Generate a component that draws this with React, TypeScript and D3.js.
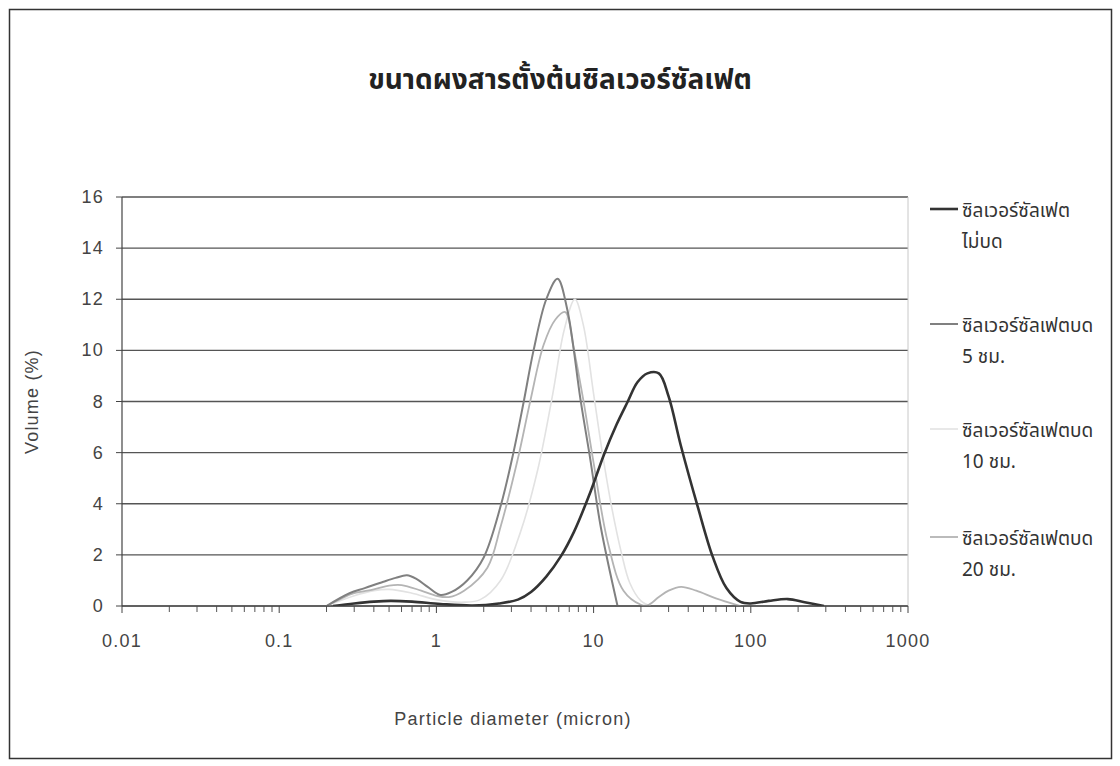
import React from "react"
import * as d3 from "d3"

// particle diameter (micron) / volume (%)
const unground = [
    [0.22, 0], [0.3, 0.1], [0.4, 0.17], [0.51, 0.2], [0.7, 0.17], [1.06, 0.08],
    [1.7, 0.02], [2.5, 0.1], [3.3, 0.25], [4, 0.55], [5, 1.15], [6.2, 1.95],
    [7.5, 2.9], [9.6, 4.5], [11.6, 5.9], [14, 7.1], [16.5, 8.0], [19, 8.75],
    [22, 9.1], [26, 9.1], [30, 8.2], [35.8, 6.3],
    [45.9, 3.9], [57.3, 1.92], [70, 0.7], [86, 0.16], [100, 0.1],
    [130, 0.2], [172, 0.27], [220, 0.15], [292, 0],
]
const milled5 = [
    [0.2, 0], [0.28, 0.5], [0.35, 0.7], [0.46, 0.95], [0.55, 1.1], [0.65, 1.2],
    [0.75, 1.05], [0.88, 0.75], [1.06, 0.43], [1.25, 0.55], [1.57, 1.0],
    [2.0, 1.9], [2.56, 3.9], [3.09, 6.0], [3.58, 7.94], [4.15, 10.0],
    [5.0, 12.0], [5.9, 12.8], [6.8, 11.6], [8.26, 8.06], [9.55, 5.7],
    [11.1, 3.1], [14.2, 0],
]
const milled10 = [
    [0.2, 0], [0.3, 0.4], [0.4, 0.6], [0.5, 0.65], [0.7, 0.5], [1, 0.25],
    [1.5, 0.15], [1.9, 0.25], [2.56, 1.0], [3.43, 2.9], [4.4, 5.3], [5.5, 8.3],
    [6.5, 10.8], [7.6, 12], [8.6, 11], [10, 8.3], [11.5, 5.8], [13, 3.9],
    [15, 2.1], [17, 0.9], [20, 0.2], [23, 0],
]
const milled20 = [
    [0.2, 0], [0.25, 0.3], [0.3, 0.5], [0.4, 0.65], [0.5, 0.8], [0.6, 0.82],
    [0.8, 0.6], [1.0, 0.4], [1.2, 0.35], [1.5, 0.6], [2.11, 1.5], [2.56, 3.1],
    [3.28, 5.7], [3.97, 8.06], [4.8, 10.2], [5.7, 11.2], [6.6, 11.5], [7.46, 10.1],
    [8.6, 8.06], [10, 5.6], [12.3, 2.5], [15.5, 0.6], [20, 0.05], [22, 0.02],
    [26, 0.35], [30, 0.6], [36, 0.75], [45, 0.6], [60, 0.3], [86, 0],
]

const seriesNames = [
    ["ซิลเวอร์ซัลเฟต", "ไม่บด"],
    ["ซิลเวอร์ซัลเฟตบด", "5 ชม."],
    ["ซิลเวอร์ซัลเฟตบด", "10 ชม."],
    ["ซิลเวอร์ซัลเฟตบด", "20 ชม."],
]
const seriesData = [unground, milled5, milled10, milled20]
const seriesColors = ["#333333", "#808080", "#e2e2e2", "#b4b4b4"]
const seriesWidths = [2.6, 2, 1.6, 1.8]

const yTicks = [0, 2, 4, 6, 8, 10, 12, 14, 16]
const xMajor = [0.01, 0.1, 1, 10, 100, 1000]

const W = 1120
const H = 766
const left = 122
const right = 908
const top = 197
const bottom = 606

const thai = "Tahoma, 'Noto Sans Thai', Loma, Garuda, 'DejaVu Sans', sans-serif"
const latin = "Arial, 'Liberation Sans', sans-serif"

export default function App() {
    const x = d3.scaleLog().domain([0.01, 1000]).range([left, right])
    const y = d3.scaleLinear().domain([0, 16]).range([bottom, top])

    const line = d3
        .line<number[]>()
        .x((d) => x(d[0]))
        .y((d) => y(d[1]))
        .curve(d3.curveCatmullRom.alpha(0.5))

    // minor ticks 2..9 in every decade
    const xMinor: number[] = []
    for (let e = -2; e < 3; e++) {
        for (let m = 2; m < 10; m++) xMinor.push(m * Math.pow(10, e))
    }

    const legendY = [212, 327, 432, 540]

    return (
        <div style={{ position: "absolute", left: 0, top: 0 }}>
            <svg width={W} height={H} style={{ display: "block", background: "#fff" }}>
                <defs>
                    <clipPath id="plot">
                        <rect x={left} y={top - 20} width={right - left} height={bottom - top + 20} />
                    </clipPath>
                </defs>
                <rect x={9.5} y={9.5} width={1102} height={749} fill="none" stroke="#333" strokeWidth={1.5} />

                <text x={560} y={89} textAnchor="middle" fontFamily={thai} fontWeight="bold" fontSize={28} fill="#222">
                    ขนาดผงสารตั้งต้นซิลเวอร์ซัลเฟต
                </text>

                {/* gridlines */}
                {yTicks.map((t) => (
                    <line key={"g" + t} x1={left} x2={right} y1={y(t)} y2={y(t)} stroke="#555" strokeWidth={1.3} />
                ))}
                <line x1={right} x2={right} y1={top} y2={bottom} stroke="#c8c8c8" strokeWidth={1} />

                {/* y axis */}
                <line x1={left} x2={left} y1={top} y2={bottom} stroke="#444" strokeWidth={1.2} />
                {yTicks.map((t) => (
                    <g key={"y" + t}>
                        <line x1={left - 6} x2={left} y1={y(t)} y2={y(t)} stroke="#444" />
                        <text x={104} y={y(t) + 6} textAnchor="end" fontFamily={latin} fontSize={18} letterSpacing={1.2} fill="#444">
                            {t}
                        </text>
                    </g>
                ))}
                <text
                    transform={`translate(38,${(top + bottom) / 2}) rotate(-90)`}
                    textAnchor="middle"
                    fontFamily={latin}
                    fontSize={18}
                    letterSpacing={1.2}
                    fill="#444"
                >
                    Volume (%)
                </text>

                {/* x axis */}
                {xMinor.map((t) => (
                    <line key={"m" + t} x1={x(t)} x2={x(t)} y1={bottom} y2={bottom + 6} stroke="#555" />
                ))}
                {xMajor.map((t) => (
                    <g key={"x" + t}>
                        <line x1={x(t)} x2={x(t)} y1={bottom} y2={bottom + 7} stroke="#444" />
                        <text x={x(t)} y={647} textAnchor="middle" fontFamily={latin} fontSize={18} letterSpacing={1.2} fill="#444">
                            {t}
                        </text>
                    </g>
                ))}
                <text x={513} y={725} textAnchor="middle" fontFamily={latin} fontSize={18} letterSpacing={1.2} fill="#444">
                    Particle diameter (micron)
                </text>

                {/* curves, lightest first */}
                <g clipPath="url(#plot)">
                    {[2, 3, 1, 0].map((i) => (
                        <path
                            key={"s" + i}
                            d={line(seriesData[i]) || ""}
                            fill="none"
                            stroke={seriesColors[i]}
                            strokeWidth={seriesWidths[i]}
                            strokeLinejoin="round"
                        />
                    ))}
                </g>
                <line x1={left} x2={right} y1={bottom} y2={bottom} stroke="#444" strokeWidth={1.2} />

                {/* legend */}
                {seriesNames.map((n, i) => (
                    <g key={"l" + i}>
                        <line x1={930} x2={958} y1={legendY[i] - 3} y2={legendY[i] - 3} stroke={seriesColors[i]} strokeWidth={seriesWidths[i]} />
                        <text x={962} y={legendY[i] + 5} fontFamily={thai} fontSize={19} fill="#333">
                            {n[0]}
                        </text>
                        <text x={962} y={legendY[i] + 36} fontFamily={thai} fontSize={19} fill="#333">
                            {n[1]}
                        </text>
                    </g>
                ))}
            </svg>
        </div>
    )
}
